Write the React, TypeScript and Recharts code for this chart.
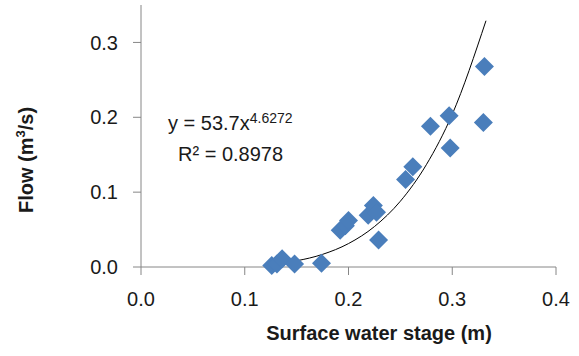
import React from 'react';
import { ComposedChart, Scatter, Line, XAxis, YAxis, Label } from 'recharts';

const stage = [0.126, 0.131, 0.136, 0.148, 0.174, 0.192, 0.197, 0.200, 0.219, 0.224, 0.227, 0.229, 0.255, 0.262, 0.279, 0.297, 0.298, 0.330, 0.331];
const flow = [0.002, 0.004, 0.011, 0.004, 0.005, 0.049, 0.055, 0.062, 0.069, 0.082, 0.073, 0.036, 0.117, 0.134, 0.188, 0.202, 0.159, 0.193, 0.268];

// points
const trendX = [0.126, 0.15, 0.175, 0.2, 0.225, 0.25, 0.275, 0.3, 0.3325];
const trendY = [0.0037, 0.0083, 0.0169, 0.0313, 0.054, 0.0879, 0.1366, 0.204, 0.329];

const xTicks = [0, 0.1, 0.2, 0.3, 0.4];
const yTicks = [0, 0.1, 0.2, 0.3];

const points = stage.map((x, i) => ({ x, y: flow[i] }));
const trend = trendX.map((x, i) => ({ x, t: trendY[i] }));

const FONT = '"Liberation Sans", Arial, sans-serif';
const AXIS = '#868686';
const TEXT = '#1a1a1a';
const BLUE = '#4a7ebb';

const Diamond = (props: any) => {
  const { cx, cy } = props;
  const h = 9.5;
  return (
    <polygon
      points={`${cx},${cy - h} ${cx + h},${cy} ${cx},${cy + h} ${cx - h},${cy}`}
      fill={BLUE}
    />
  );
};

const XLabel = () => (
  <text x={379} y={340} textAnchor="middle" fontFamily={FONT} fontSize={20} fontWeight="bold" fill={TEXT}>
    Surface water stage (m)
  </text>
);

const YLabel = () => (
  <text
    x={0}
    y={0}
    transform="translate(33,160) rotate(-90)"
    textAnchor="middle"
    fontFamily={FONT}
    fontSize={20}
    fontWeight="bold"
    fill={TEXT}
  >
    Flow (m<tspan fontSize={13} dy={-8}>3</tspan><tspan dy={8}>/s)</tspan>
  </text>
);

const Equation = () => (
  <g fontFamily={FONT} fill={TEXT}>
    <text x={168} y={130} fontSize={20}>
      y = 53.7x<tspan fontSize={14} dy={-7}>4.6272</tspan>
    </text>
    <text x={178} y={161} fontSize={20}>
      R² = 0.8978
    </text>
  </g>
);

export default function App() {
  return (
    <div style={{ position: 'absolute', left: 0, top: 0, background: '#fff' }}>
      <ComposedChart width={579} height={356} margin={{ top: 5, right: 23, left: 0, bottom: 0 }}>
        <XAxis
          xAxisId="top"
          orientation="top"
          type="number"
          dataKey="x"
          domain={[0, 0.4]}
          height={0}
          tick={false}
          tickLine={false}
          axisLine={{ stroke: AXIS }}
        />
        <YAxis
          yAxisId="right"
          orientation="right"
          type="number"
          domain={[0, 0.35]}
          width={0}
          tick={false}
          tickLine={false}
          axisLine={{ stroke: AXIS }}
        />
        <XAxis
          type="number"
          dataKey="x"
          domain={[0, 0.4]}
          ticks={xTicks}
          height={89}
          tickSize={8}
          tickMargin={17}
          tickFormatter={(v: number) => v.toFixed(1)}
          tick={{ fontFamily: FONT, fontSize: 20, fill: TEXT }}
          stroke={AXIS}
          axisLine={{ stroke: AXIS }}
          tickLine={{ stroke: AXIS }}
          label={<Label content={XLabel} />}
        />
        <YAxis
          type="number"
          domain={[0, 0.35]}
          ticks={yTicks}
          width={141}
          tickSize={8}
          tickMargin={15}
          tickFormatter={(v: number) => v.toFixed(1)}
          tick={{ fontFamily: FONT, fontSize: 20, fill: TEXT }}
          stroke={AXIS}
          axisLine={{ stroke: AXIS }}
          tickLine={{ stroke: AXIS }}
          label={<Label content={YLabel} />}
        />
        <Scatter data={points} dataKey="y" shape={Diamond} isAnimationActive={false} />
        <Line
          data={trend}
          dataKey="t"
          type="monotone"
          stroke="#000"
          strokeWidth={1}
          dot={false}
          activeDot={false}
          isAnimationActive={false}
        />
      </ComposedChart>
      <svg width={579} height={356} style={{ position: 'absolute', left: 0, top: 0, pointerEvents: 'none' }}>
        <Equation />
      </svg>
    </div>
  );
}
